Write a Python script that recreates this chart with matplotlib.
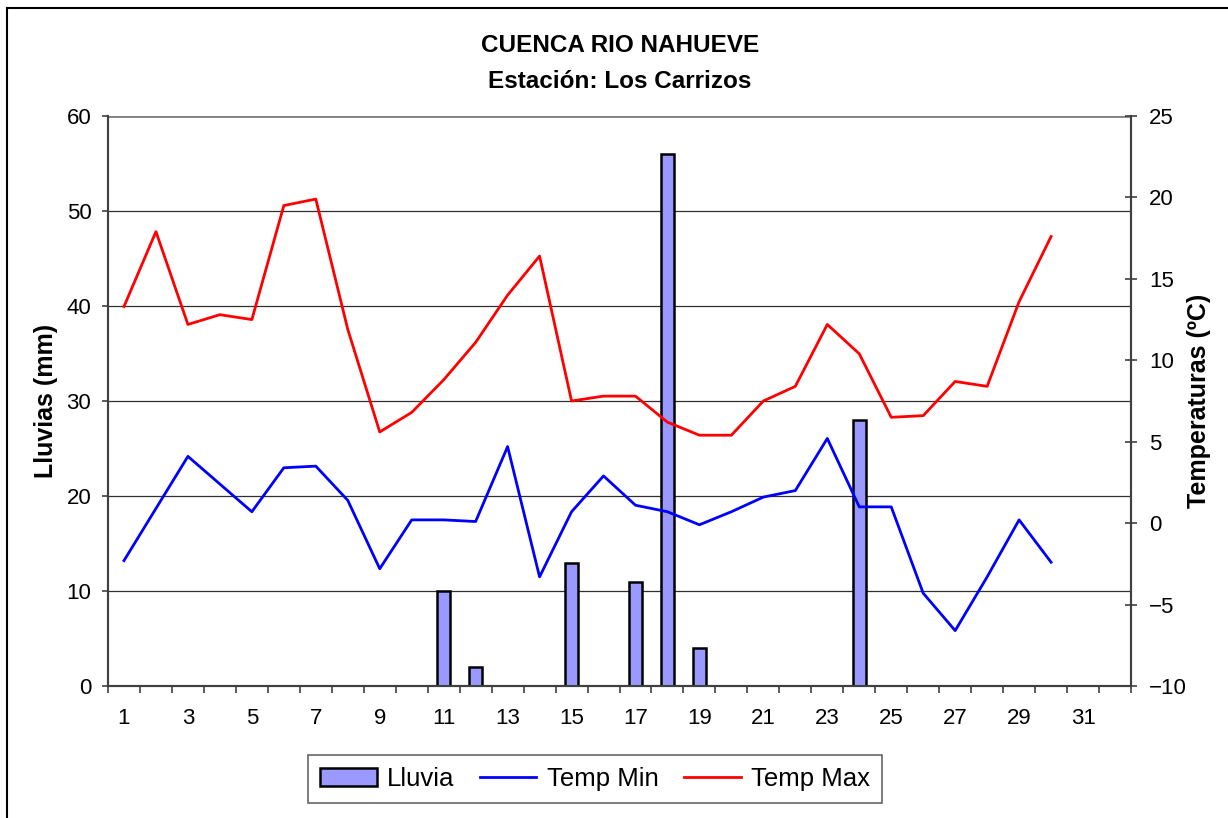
import matplotlib
matplotlib.use("Agg")
import matplotlib.pyplot as plt
from matplotlib.patches import Rectangle

plt.rcParams["font.family"] = ["Liberation Sans", "DejaVu Sans"]

# ---- datos diarios ----
dias = list(range(1, 31))
temp_max = [13.3, 17.9, 12.2, 12.8, 12.5, 19.5, 19.9, 11.9, 5.6, 6.8,
            8.8, 11.1, 14.0, 16.4, 7.5, 7.8, 7.8, 6.2, 5.4, 5.4,
            7.5, 8.4, 12.2, 10.4, 6.5, 6.6, 8.7, 8.4, 13.6, 17.6]
temp_min = [-2.3, 0.9, 4.1, 2.4, 0.7, 3.4, 3.5, 1.4, -2.8, 0.2,
            0.2, 0.1, 4.7, -3.3, 0.7, 2.9, 1.1, 0.7, -0.1, 0.7,
            1.6, 2.0, 5.2, 1.0, 1.0, -4.3, -6.6, -3.3, 0.2, -2.4]
dias_lluvia = [11, 12, 15, 17, 18, 19, 24]
lluvia = [10, 2, 13, 11, 56, 4, 28]

x_labels = list(range(1, 32, 2))

fig = plt.figure(figsize=(12.28, 8.18), dpi=100)
ax = fig.add_axes([108 / 1228, 1 - 686 / 818, (1131 - 108) / 1228, (686 - 116) / 818])
ax2 = ax.twinx()

# borde exterior del area del grafico
fig.patches.append(Rectangle((7 / 1228, -0.1), 1.2, 1.1 - 8 / 818,
                             transform=fig.transFigure, fill=False,
                             edgecolor="black", linewidth=1.5))

# barras de lluvia
barras = ax.bar(dias_lluvia, lluvia, width=0.4, color="#9999FF",
                edgecolor="black", linewidth=1.8, label="Lluvia", zorder=3)

# temperaturas
l_min, = ax2.plot(dias, temp_min, color="#0000FF", linewidth=2, label="Temp Min")
l_max, = ax2.plot(dias, temp_max, color="#FF0000", linewidth=2, label="Temp Max")

# ejes
ax.set_xlim(0.5, 32.5)
ax.set_ylim(0, 60)
ax.set_yticks(range(0, 61, 10))
ax2.set_ylim(-10, 25)
ax2.set_yticks(range(-10, 26, 5))

ax.set_xticks(x_labels)
ax.set_xticklabels([str(d) for d in x_labels])
ax.set_xticks([d + 0.5 for d in range(0, 33)], minor=True)
ax.tick_params(axis="x", which="major", length=0, pad=16, labelsize=16)
ax.tick_params(axis="x", which="minor", length=5, width=1.2, color="#404040")
ax.tick_params(axis="y", length=4, width=1.2, color="#404040", pad=8, labelsize=16)
ax2.tick_params(axis="y", direction="inout", length=8, width=1.2,
                color="#404040", pad=9, labelsize=16)

# grilla horizontal del eje izquierdo
ax.set_axisbelow(True)
ax.grid(axis="y", color="#303030", linewidth=0.9)
ax.axhline(60, color="#808080", linewidth=2, zorder=1)

for a in (ax, ax2):
    a.spines["top"].set_visible(False)
    for s in ("left", "right", "bottom"):
        a.spines[s].set_color("#404040")
        a.spines[s].set_linewidth(1.5)

ax.set_ylabel("Lluvias (mm)", fontsize=18, fontweight="bold", labelpad=6)
ax2.set_ylabel("Temperaturas (ºC)", fontsize=18, fontweight="bold", labelpad=0)

fig.text(0.505, 1 - 45 / 818, "CUENCA RIO NAHUEVE", ha="center", va="center",
         fontsize=17.5, fontweight="bold")
fig.text(0.505, 1 - 82 / 818, "Estación: Los Carrizos", ha="center", va="center",
         fontsize=17.5, fontweight="bold")

leg = fig.legend([barras, l_min, l_max], ["Lluvia", "Temp Min", "Temp Max"],
                 loc="center", bbox_to_anchor=(595 / 1228, 1 - 779 / 818),
                 ncol=3, frameon=True, fancybox=False, fontsize=18.5,
                 handlelength=2.2, handletextpad=0.4, columnspacing=1.0,
                 borderpad=0.45)
leg.get_frame().set_edgecolor("#404040")
leg.get_frame().set_linewidth(1.2)

fig.savefig("out.png", dpi=100)
